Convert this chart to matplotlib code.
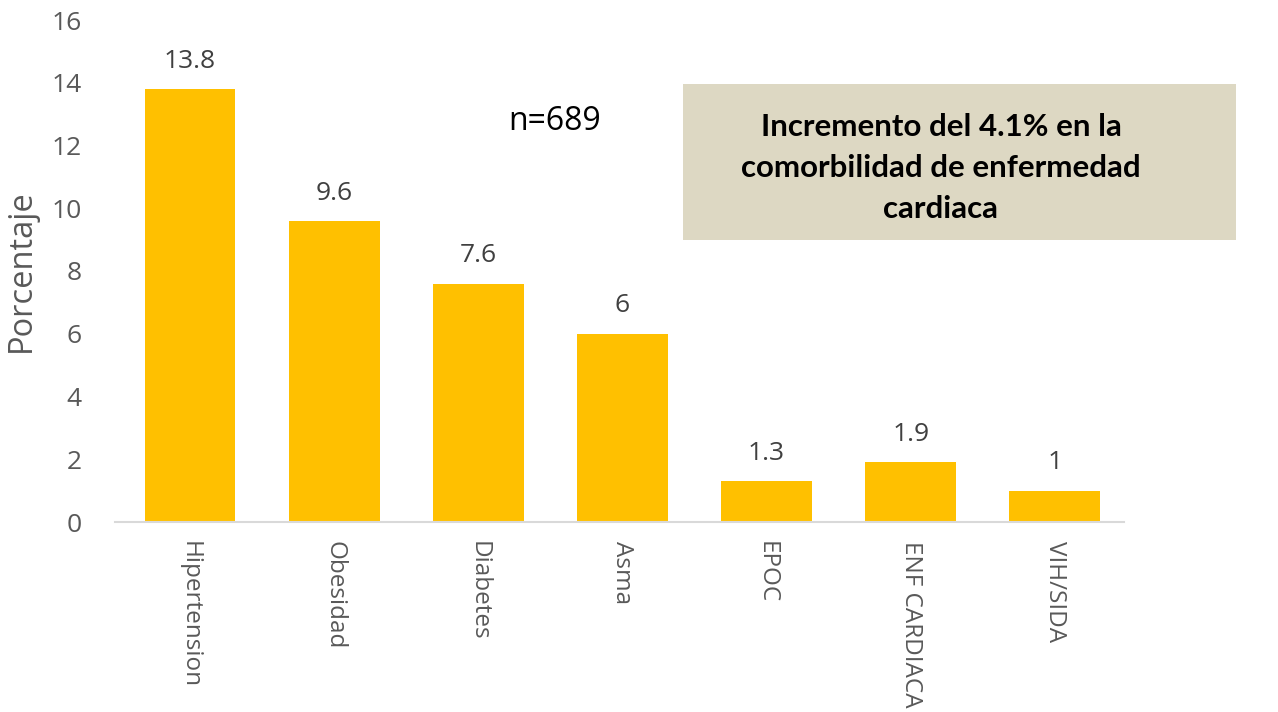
import matplotlib
matplotlib.use("Agg")
import matplotlib.pyplot as plt
from matplotlib.patches import Rectangle

categories = ["Hipertension", "Obesidad", "Diabetes", "Asma", "EPOC", "ENF CARDIACA", "VIH/SIDA"]
values = [13.8, 9.6, 7.6, 6, 1.3, 1.9, 1]
value_labels = ["13.8", "9.6", "7.6", "6", "1.3", "1.9", "1"]
yticks = [0, 2, 4, 6, 8, 10, 12, 14, 16]
ylabel = "Porcentaje"
note = "n=689"
box_text = "Incremento del 4.1% en la\ncomorbilidad de enfermedad\ncardiaca"

plt.rcParams['font.family'] = ['Open Sans', 'DejaVu Sans']

fig = plt.figure(figsize=(12.78, 7.12), dpi=100)
fig.patch.set_facecolor('white')
ax = fig.add_axes([115/1278, 1-522/712, (1124-115)/1278, (522-20)/712])
ax.set_facecolor('none')

x = list(range(len(categories)))
bars = ax.bar(x, values, width=0.63, color='#FFC000', zorder=2)
ax.set_xlim(-0.52, len(categories)-0.52)
ax.set_ylim(0, 16)
ax.set_yticks(yticks)
ax.set_yticklabels([str(t) for t in yticks], fontsize=19, color='#595959')
ax.set_xticks(x)
ax.set_xticklabels(categories, rotation=270, fontsize=17.5, color='#595959', va='top', ha='center')
ax.tick_params(axis='y', length=0, pad=24)
ax.tick_params(axis='x', length=0, pad=14)
for s in ['top', 'right', 'left']:
    ax.spines[s].set_visible(False)
ax.spines['bottom'].set_color('#D9D9D9')
ax.spines['bottom'].set_linewidth(1.5)

for xi, v, lab in zip(x, values, value_labels):
    ax.annotate(lab, (xi, v), xytext=(0, 20), textcoords='offset points',
                ha='center', va='center', fontsize=19, color='#404040')

ax.set_ylabel(ylabel, fontsize=23.5, color='#595959')
ax.yaxis.set_label_coords(-0.076, 0.5)

fig.text(555/1278, 1-121/712, note, fontsize=23, color='black', ha='center', va='center')

fig.patches.append(Rectangle((683/1278, 1-240/712), (1236-683)/1278, (240-84)/712,
                             transform=fig.transFigure, facecolor='#DDD8C3', edgecolor='none', zorder=0))
fig.text(941/1278, 1-168/712, box_text, fontsize=22.5, fontweight='bold', color='black',
         ha='center', va='center', linespacing=1.55, family=['Lato', 'DejaVu Sans'])

fig.savefig('out.png', dpi=100, facecolor='white')
